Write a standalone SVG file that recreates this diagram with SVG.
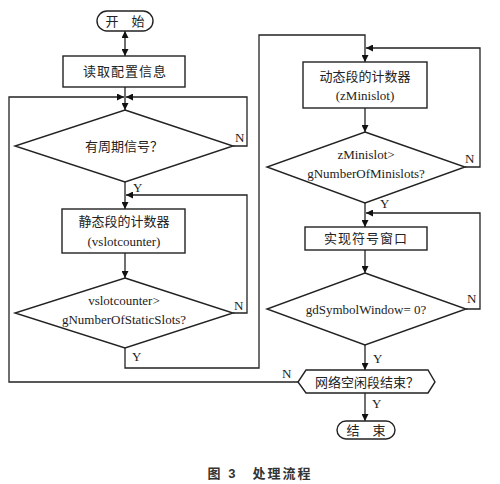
<svg xmlns="http://www.w3.org/2000/svg" width="500" height="484" viewBox="0 0 500 484">
<defs>
<marker id="ah" viewBox="0 0 10 10" refX="10" refY="5" markerWidth="8" markerHeight="7" markerUnits="userSpaceOnUse" orient="auto-start-reverse">
<path d="M0,0 L10,5 L0,10 z" fill="#111"/>
</marker>
<style>
.s{fill:#fff;stroke:#222;stroke-width:1.4}
.c{fill:none;stroke:#222;stroke-width:1.3}
.t{font-family:"Liberation Serif","Noto Sans CJK SC",serif;font-size:13px;fill:#222;text-anchor:middle}
.l{font-family:"Liberation Serif",serif;font-size:13px;fill:#222}
.cap{font-family:"Liberation Sans","Noto Sans CJK SC",sans-serif;font-size:13px;fill:#333;text-anchor:middle;font-weight:600;letter-spacing:2px}
</style>
</defs>
<rect width="500" height="484" fill="#fff"/>
<g id="connectors">
<path class="c" d="M125,31 V56" marker-start="url(#ah)" marker-end="url(#ah)"/>
<path class="c" d="M125,87 V110" marker-end="url(#ah)"/>
<path class="c" d="M298,382 H9 V97 H124" marker-end="url(#ah)"/>
<path class="c" d="M233,146 H247 V97 H126" marker-end="url(#ah)"/>
<path class="c" d="M125,182 V209" marker-end="url(#ah)"/>
<path class="c" d="M125,253 V278" marker-end="url(#ah)"/>
<path class="c" d="M233,313 H247 V195 H126" marker-end="url(#ah)"/>
<path class="c" d="M125,348 V368 H259 V35 H365 V62" marker-end="url(#ah)"/>
<path class="c" d="M365,108 V132" marker-end="url(#ah)"/>
<path class="c" d="M465,167 H480 V48 H366" marker-end="url(#ah)"/>
<path class="c" d="M365,203 V227" marker-end="url(#ah)"/>
<path class="c" d="M365,250 V273" marker-end="url(#ah)"/>
<path class="c" d="M466,309 H480 V213 H366" marker-end="url(#ah)"/>
<path class="c" d="M365,345 V370" marker-end="url(#ah)"/>
<path class="c" d="M365,393 V421" marker-end="url(#ah)"/>
<text class="l" x="235" y="142">N</text>
<text class="l" x="133" y="192">Y</text>
<text class="l" x="234" y="310">N</text>
<text class="l" x="132" y="361">Y</text>
<text class="l" x="465" y="163">N</text>
<text class="l" x="380" y="208">Y</text>
<text class="l" x="467" y="303">N</text>
<text class="l" x="373" y="363">Y</text>
<text class="l" x="282" y="378">N</text>
<text class="l" x="372" y="408">Y</text>
</g>
<g id="start">
<rect class="s" x="97" y="11" width="56" height="20" rx="10"/>
<text class="t" x="125" y="26">开　始</text>
</g>
<g id="read">
<rect class="s" x="63" y="56" width="122" height="31"/>
<text class="t" x="125" y="76" style="letter-spacing:1px">读取配置信息</text>
</g>
<g id="d1">
<polygon class="s" points="125,110 233,146 125,182 15,146"/>
<text class="t" x="124" y="151">有周期信号？</text>
</g>
<g id="static">
<rect class="s" x="62" y="209" width="123" height="44"/>
<text class="t" x="124" y="226">静态段的计数器</text>
<text class="t" x="124" y="246">(vslotcounter)</text>
</g>
<g id="d2">
<polygon class="s" points="125,278 233,313 125,348 15,313"/>
<text class="t" x="124" y="305">vslotcounter&gt;</text>
<text class="t" x="124" y="324">gNumberOfStaticSlots?</text>
</g>
<g id="dynamic">
<rect class="s" x="303" y="62" width="124" height="46"/>
<text class="t" x="365" y="81">动态段的计数器</text>
<text class="t" x="365" y="100">(zMinislot)</text>
</g>
<g id="d3">
<polygon class="s" points="365,132 465,167 365,203 267,167"/>
<text class="t" x="366" y="159">zMinislot&gt;</text>
<text class="t" x="366" y="178">gNumberOfMinislots?</text>
</g>
<g id="window">
<rect class="s" x="305" y="227" width="122" height="23"/>
<text class="t" x="366" y="243" style="letter-spacing:1px">实现符号窗口</text>
</g>
<g id="d4">
<polygon class="s" points="365,273 466,309 365,345 267,309"/>
<text class="t" x="366" y="314">gdSymbolWindow= 0?</text>
</g>
<g id="hex">
<polygon class="s" points="306,370 428,370 435,382 428,393 306,393 298,382"/>
<text class="t" x="367" y="387">网络空闲段结束？</text>
</g>
<g id="end">
<rect class="s" x="337" y="421" width="58" height="18" rx="9"/>
<text class="t" x="366" y="435">结　束</text>
</g>
<g id="caption">
<text class="cap" x="260" y="478">图 3　处理流程</text>
</g>
</svg>
